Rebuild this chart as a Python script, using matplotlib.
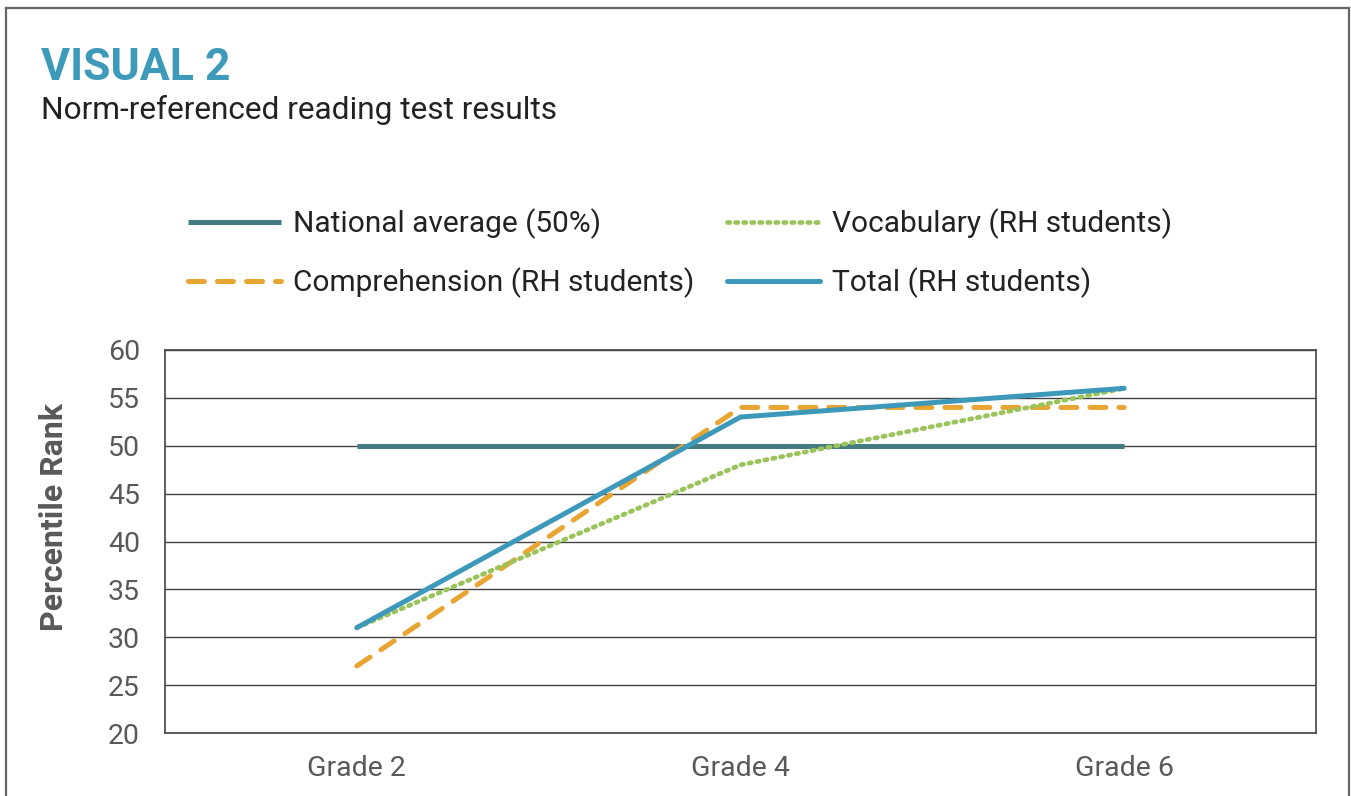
import numpy as np
import matplotlib.pyplot as plt

# Norm-referenced reading test results (percentile rank)
grades = ["Grade 2", "Grade 4", "Grade 6"]
national = [50, 50, 50]
vocabulary = [31, 48, 56]
comprehension = [27, 54, 54]
total = [31, 53, 56]
yticks = [20, 25, 30, 35, 40, 45, 50, 55, 60]

plt.rcParams['font.family'] = ['Roboto', 'DejaVu Sans']

fig = plt.figure(figsize=(13.51, 7.96), dpi=100)

# outer frame (open at the bottom)
W, H = 1351, 796
fx = lambda px: px / W
fy = lambda py: 1 - py / H
frame_col = '#666666'
fig.add_artist(plt.Line2D([fx(6), fx(6)], [fy(8), 0], color=frame_col, lw=1.6))
fig.add_artist(plt.Line2D([fx(6), fx(1349)], [fy(8), fy(8)], color=frame_col, lw=1.6))
fig.add_artist(plt.Line2D([fx(1349), fx(1349)], [fy(8), 0], color=frame_col, lw=1.6))

fig.text(fx(41), fy(80), "VISUAL 2", fontsize=32, fontweight='bold', color='#3d9bb9', va='baseline')
fig.text(fx(41), fy(119), "Norm-referenced reading test results", fontsize=22.8, color='#222222', va='baseline')

ax = fig.add_axes([fx(165), fy(733), fx(1316) - fx(165), (733 - 350) / H])
x = np.arange(len(grades)) + 0.5

ax.plot(x, national, color='#437b80', lw=3.6, solid_capstyle='butt', label='National average (50%)', zorder=3)
ax.plot(x, comprehension, color='#e8a531', lw=3.6, dashes=(3.2, 2.6), dash_capstyle='round',
        label='Comprehension (RH students)', zorder=4)
ax.plot(x, vocabulary, color='#9bc35b', lw=3.4, dashes=(0.5, 1.2), dash_capstyle='round',
        label='Vocabulary (RH students)', zorder=5)
ax.plot(x, total, color='#3d99ba', lw=3.6, solid_capstyle='round', label='Total (RH students)', zorder=6)

ax.set_xlim(0, 3)
ax.set_ylim(20, 60)
ax.set_yticks(yticks)
ax.set_xticks(x)
ax.set_xticklabels(grades)
ax.tick_params(axis='both', length=0, labelsize=20.5, labelcolor='#595959')
ax.tick_params(axis='y', pad=18)
ax.tick_params(axis='x', pad=16)
ax.grid(axis='y', color='#444444', lw=1.0)
ax.set_axisbelow(True)
for s in ax.spines.values():
    s.set_color('#444444')
    s.set_linewidth(1.2)

ax.set_ylabel("Percentile Rank", fontsize=23, fontweight='bold', color='#595959')
ax.yaxis.set_label_coords(-0.083, 0.565)

handles, labels = ax.get_legend_handles_labels()
fig.legend(handles, labels, ncol=2, loc='center', bbox_to_anchor=(fx(680), fy(253)),
           frameon=False, fontsize=21.5, handlelength=3.1, columnspacing=1.1,
           labelspacing=0.95, handletextpad=0.4, labelcolor='#222222')

fig.savefig('out.png', dpi=100)
